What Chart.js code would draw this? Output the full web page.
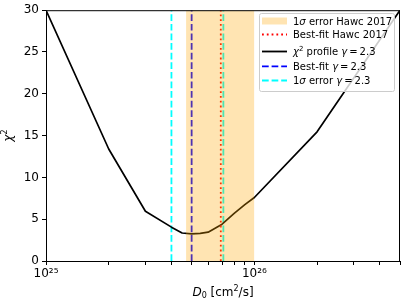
<!DOCTYPE html>
<html>
<head>
<meta charset="utf-8">
<script src="https://cdn.jsdelivr.net/npm/chart.js@4.4.1/dist/chart.umd.min.js"></script>
<style>
  html, body { margin: 0; padding: 0; background: #fff; }
</style>
</head>
<body>
<canvas id="myChart" width="407" height="305"></canvas>
<script>
// chi^2 profile vs diffusion coefficient D0 (cm^2/s)
const diffCoeff = [1e25, 2e25, 3e25, 4e25, 4.5e25, 5e25, 5.5e25, 6e25, 7e25, 8e25, 9e25, 1e26, 2e26, 5e26];
const chi2      = [30.0, 13.4, 5.95, 4.05, 3.35, 3.25, 3.3, 3.45, 4.4, 5.7, 6.75, 7.6, 15.45, 30.0];

const hawcBand = [4.7e25, 1e26];     // 1 sigma error Hawc 2017
const hawcBest = 6.9e25;             // best-fit Hawc 2017
const fitBest  = 5e25;               // best-fit gamma = 2.3
const fitErr   = [4e25, 7.1e25];     // 1 sigma error gamma = 2.3

const xTicks      = [1e25, 2e25, 3e25, 4e25, 5e25, 6e25, 7e25, 8e25, 9e25, 1e26, 2e26, 3e26, 4e26, 5e26];
const xTickLabels = ['10²⁵', '', '', '', '', '', '', '', '', '10²⁶', '', '', '', ''];
const yTicks      = [0, 5, 10, 15, 20, 25, 30];

const FONT = 'DejaVu Sans';

function vline(x) {
  return [{x: x, y: yTicks[0]}, {x: x, y: yTicks[yTicks.length - 1]}];
}

// draws text made of parts: [text, style] with style '', 'i', 'sup', 'sub'
function richText(ctx, parts, x, y, size, align) {
  const fontOf = p => {
    if (p[1] === 'i') return 'italic ' + size + 'px "' + FONT + '"';
    if (p[1] === 'sup' || p[1] === 'sub') return Math.round(size * 0.7) + 'px "' + FONT + '"';
    return size + 'px "' + FONT + '"';
  };
  let w = 0;
  parts.forEach(p => { ctx.font = fontOf(p); w += ctx.measureText(p[0]).width; });
  let cx = align === 'center' ? x - w / 2 : x;
  parts.forEach(p => {
    ctx.font = fontOf(p);
    const dy = p[1] === 'sup' ? -size * 0.4 : (p[1] === 'sub' ? size * 0.22 : 0);
    ctx.fillText(p[0], cx, y + dy);
    cx += ctx.measureText(p[0]).width;
  });
}

const legendItems = [
  {kind: 'patch', color: 'rgba(255,165,0,0.3)', text: [['1', ''], ['σ', 'i'], [' error Hawc 2017', '']]},
  {kind: 'line', color: '#ff0000', dash: [1.8, 3], text: [['Best-fit Hawc 2017', '']]},
  {kind: 'line', color: '#000000', dash: [], text: [['χ', 'i'], ['2', 'sup'], [' profile ', ''], ['γ', 'i'], ['\u2009=\u20092.3', '']]},
  {kind: 'line', color: '#0000ff', dash: [6.7, 2.9], text: [['Best-fit ', ''], ['γ', 'i'], ['\u2009=\u20092.3', '']]},
  {kind: 'line', color: '#00ffff', dash: [6.7, 2.9], text: [['1', ''], ['σ', 'i'], [' error ', ''], ['γ', 'i'], ['\u2009=\u20092.3', '']]}
];
const legendRowY = [21, 34.5, 51.5, 66.3, 80.5];

const decorPlugin = {
  id: 'decor',
  afterDatasetsDraw(chart) {
    const {ctx, chartArea: a} = chart;
    ctx.save();
    // axes frame
    ctx.strokeStyle = '#000';
    ctx.lineWidth = 1;
    ctx.strokeRect(a.left + 0.5, a.top + 0.5, a.right - a.left - 1, a.bottom - a.top);

    // axis titles
    ctx.fillStyle = '#000';
    ctx.textBaseline = 'alphabetic';
    richText(ctx, [['D', 'i'], ['0', 'sub'], [' [cm', ''], ['2', 'sup'], ['/s]', '']],
      (a.left + a.right) / 2, 295.5, 12, 'center');
    ctx.save();
    ctx.translate(12, (a.top + a.bottom) / 2);
    ctx.rotate(-Math.PI / 2);
    richText(ctx, [['χ', 'i'], ['2', 'sup']], 0, 0, 12, 'center');
    ctx.restore();

    // legend box
    const lx = 259, ly = 13, lw = 135, lh = 78;
    ctx.beginPath();
    ctx.roundRect(lx + 0.5, ly + 0.5, lw, lh, 2);
    ctx.fillStyle = 'rgba(255,255,255,0.8)';
    ctx.fill();
    ctx.strokeStyle = '#cccccc';
    ctx.stroke();

    legendItems.forEach((it, i) => {
      const y = legendRowY[i];
      if (it.kind === 'patch') {
        ctx.fillStyle = it.color;
        ctx.fillRect(262, y - 3.5, 25, 7);
      } else {
        ctx.beginPath();
        ctx.setLineDash(it.dash);
        ctx.strokeStyle = it.color;
        ctx.lineWidth = 1.8;
        ctx.moveTo(262, y);
        ctx.lineTo(287, y);
        ctx.stroke();
        ctx.setLineDash([]);
      }
      ctx.fillStyle = '#000';
      richText(ctx, it.text, 293, y + 3.6, 10, 'left');
    });
    ctx.restore();
  }
};

const myChart = document.getElementById('myChart').getContext('2d');

new Chart(myChart, {
  type: 'line',
  data: {
    datasets: [
      { // Hawc 2017 band
        data: [{x: hawcBand[0], y: yTicks[yTicks.length - 1]}, {x: hawcBand[1], y: yTicks[yTicks.length - 1]}],
        fill: 'origin',
        backgroundColor: 'rgba(255,165,0,0.3)',
        borderWidth: 0,
        pointRadius: 0
      },
      { // best-fit Hawc
        data: vline(hawcBest),
        borderColor: '#ff0000',
        borderWidth: 1.8,
        borderDash: [1.8, 3],
        pointRadius: 0
      },
      { // chi2 profile
        data: diffCoeff.map((d, i) => ({x: d, y: chi2[i]})),
        borderColor: '#000000',
        borderWidth: 1.7,
        borderJoinStyle: 'round',
        pointRadius: 0,
        tension: 0
      },
      { // best-fit gamma 2.3
        data: vline(fitBest),
        borderColor: '#0000ff',
        borderWidth: 1.8,
        borderDash: [6.7, 2.9],
        pointRadius: 0
      },
      { // 1 sigma error gamma 2.3 (low)
        data: vline(fitErr[0]),
        borderColor: '#00ffff',
        borderWidth: 1.8,
        borderDash: [6.7, 2.9],
        pointRadius: 0
      },
      { // 1 sigma error gamma 2.3 (high)
        data: vline(fitErr[1]),
        borderColor: '#00ffff',
        borderWidth: 1.8,
        borderDash: [6.7, 2.9],
        pointRadius: 0
      }
    ]
  },
  options: {
    responsive: false,
    animation: false,
    events: [],
    layout: { padding: { top: 8, right: 7, left: 0, bottom: 0 } },
    plugins: {
      legend: { display: false },
      tooltip: { enabled: false }
    },
    scales: {
      x: {
        type: 'logarithmic',
        min: xTicks[0],
        max: xTicks[xTicks.length - 1],
        afterBuildTicks: s => { s.ticks = xTicks.map(v => ({value: v})); },
        afterFit: s => { s.height = 44; },
        ticks: {
          autoSkip: false,
          maxRotation: 0,
          padding: 2,
          color: '#000',
          font: { family: FONT, size: 12 },
          callback: v => xTickLabels[xTicks.indexOf(v)] || ''
        },
        grid: { drawOnChartArea: false, tickLength: 4, tickColor: '#000' },
        border: { display: false }
      },
      y: {
        min: yTicks[0],
        max: yTicks[yTicks.length - 1],
        afterBuildTicks: s => { s.ticks = yTicks.map(v => ({value: v})); },
        afterFit: s => { s.width = 46; },
        ticks: {
          padding: 3,
          color: '#000',
          font: { family: FONT, size: 12 }
        },
        grid: { drawOnChartArea: false, tickLength: 4, tickColor: '#000' },
        border: { display: false }
      }
    }
  },
  plugins: [decorPlugin]
});
</script>
</body>
</html>
